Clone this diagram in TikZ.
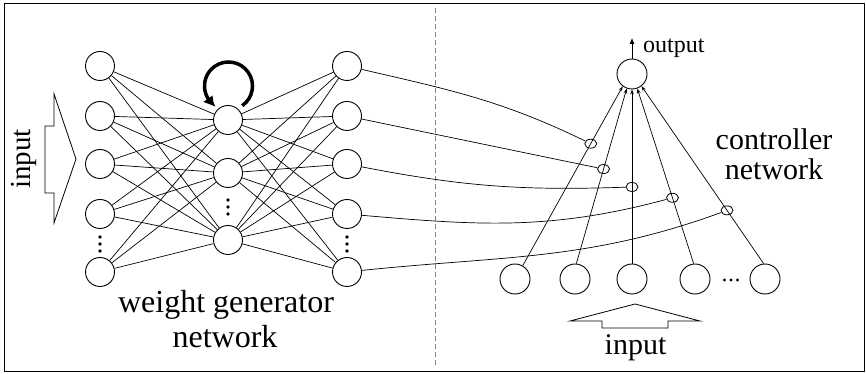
\documentclass[tikz,border=0pt]{standalone}
\usepackage{fontspec}
\setmainfont{Liberation Serif}
\usetikzlibrary{arrows.meta,bending,shapes.geometric}
\begin{document}
\begin{tikzpicture}[x=1pt,y=1pt,
  neuron/.style={circle,draw,line width=0.9pt,minimum size=29pt,inner sep=0pt},
  cneuron/.style={circle,draw,line width=0.9pt,minimum size=30pt,inner sep=0pt},
  gate/.style={ellipse,draw,line width=0.8pt,minimum width=12pt,minimum height=9pt,inner sep=0pt},
  conn/.style={line width=0.7pt},
  carrow/.style={line width=0.7pt,-{Stealth[length=5pt,width=3.5pt]}},
  dot/.style={circle,fill,inner sep=0pt,minimum size=3.6pt},
  bigarrow/.style={line width=0.8pt,line join=miter},
  looparrow/.style={line width=3.5pt,-{Latex[length=11pt,width=12pt,bend]}},
  lefttext/.style={font=\fontsize{32}{35}\selectfont,inner sep=0pt,anchor=base},
  righttext/.style={font=\fontsize{30}{30}\selectfont,inner sep=0pt,anchor=base,align=center},
]
\useasboundingbox (0,0) rectangle (866,374);
\draw[line width=1pt] (4,2) rectangle (864,370);
% dashed separator
\coordinate (dtop) at (435,366);
\coordinate (dbot) at (435,9);
\draw[gray,line width=0.9pt,dash pattern=on 5pt off 3pt] (dtop) -- (dbot);

% weight generator network
\foreach \n/\y in {1/308,2/258,3/210,4/160,5/102} {
  \node[neuron] (l\n) at (100,\y) {};
  \node[neuron] (r\n) at (347,\y) {};
}
\foreach \n/\y in {1/254,2/201,3/134} {
  \node[neuron] (h\n) at (228,\y) {};
}
\foreach \i in {1,...,5} {
  \foreach \j in {1,2,3} {
    \draw[conn] (l\i) -- (h\j);
    \draw[conn] (h\j) -- (r\i);
  }
}
\foreach \k/\y in {1/137,2/130,3/123} {
  \node[dot] (dl\k) at (100,\y) {};
  \node[dot] (dr\k) at (347,\y) {};
}
\foreach \k/\y in {1/174,2/167,3/160} {
  \node[dot] (dh\k) at (228,\y) {};
}
% recurrent loop
\coordinate (loopc) at (228.5,288);
\draw[looparrow] ([shift={(-55:24)}]loopc) arc[start angle=-55,end angle=238,radius=24];

% left input arrow
\draw[bigarrow] (45,248) -- (54,248) -- (54,280) -- (76,215) -- (54,151) -- (54,181) -- (45,181) -- cycle;
\node[font=\fontsize{29}{30}\selectfont,inner sep=0pt,anchor=base,rotate=90] (inl) at (30,215) {input};

\node[lefttext] (wg1) at (226,61) {weight generator};
\node[lefttext] (wg2) at (225,26) {network};

% controller network
\node[cneuron] (out) at (632,300) {};
\foreach \n/\x in {1/515,2/575,3/632,4/695,5/765} {
  \node[cneuron] (b\n) at (\x,95) {};
}
\foreach \k/\x in {1/724.5,2/731,3/737.5} {
  \node[dot,minimum size=3.2pt] (bd\k) at (\x,94) {};
}
\draw[carrow] (b1.60) -- node[gate,pos=0.68] (g1) {} (out.233);
\draw[carrow] (b2.85) -- node[gate,pos=0.54] (g2) {} (out.250);
\draw[carrow] (b3.north) -- node[gate,pos=0.44] (g3) {} (out.south);
\draw[carrow] (b4.95) -- node[gate,pos=0.376] (g4) {} (out.290);
\draw[carrow] (b5.95) -- node[gate,pos=0.30] (g5) {} (out.308);

\coordinate (outtip) at (632,336);
\draw[line width=0.8pt,-{Latex[length=6pt,width=5pt]}] (out.north) -- (outtip);
\node[font=\fontsize{24}{26}\selectfont,inner sep=0pt,anchor=base west] (outlbl) at (643,321) {output};

% weight connections
\draw[conn] (r1) to[out=-13,in=154] (g1);
\draw[conn] (r2) -- (g2);
\draw[conn] (r3) to[out=-11,in=182] (g3);
\draw[conn] (r4) to[out=-5,in=195] (g4);
\draw[conn] (r5) to[out=6,in=200] (g5);

\node[righttext] (cn) at (774,194) {controller\\network};

% bottom input arrow
\draw[bigarrow] (570,53) -- (635,70) -- (700,53) -- (668,53) -- (668,46) -- (602,46) -- (602,53) -- cycle;
\node[font=\fontsize{30}{32}\selectfont,inner sep=0pt,anchor=base] (inb) at (635.5,19) {input};
\end{tikzpicture}
\end{document}
